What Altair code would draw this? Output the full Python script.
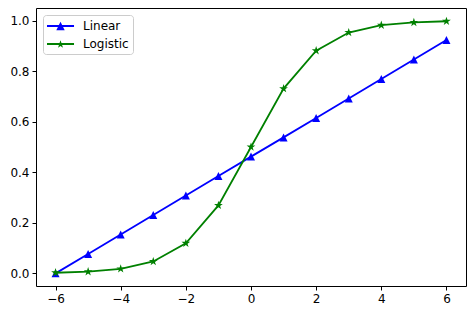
import altair as alt
import pandas as pd

x_vals = [-6, -5, -4, -3, -2, -1, 0, 1, 2, 3, 4, 5, 6]
linear_vals = [0.0, 0.077, 0.154, 0.231, 0.308, 0.385, 0.462, 0.538, 0.615, 0.692, 0.769, 0.846, 0.923]
logistic_vals = [0.0025, 0.0067, 0.018, 0.047, 0.119, 0.269, 0.5, 0.731, 0.881, 0.953, 0.982, 0.993, 0.9975]
series_names = ["Linear", "Logistic"]
series_colors = ["#0000ff", "#008000"]
x_ticks = [-6, -4, -2, 0, 2, 4, 6]
y_ticks = [0.0, 0.2, 0.4, 0.6, 0.8, 1.0]

df = pd.DataFrame({
    "x": x_vals * 2,
    "y": linear_vals + logistic_vals,
    "series": [series_names[0]] * len(x_vals) + [series_names[1]] * len(x_vals),
})

TRI = "M0,-1L1,1L-1,1Z"
STAR = ("M0,-1L0.2245,-0.309L0.951,-0.309L0.363,0.118L0.588,0.809L0,0.382"
        "L-0.588,0.809L-0.363,0.118L-0.951,-0.309L-0.2245,-0.309Z")
LEG_LINE = "M-1,-0.13H2.86V0.13H-1Z"
LEG_TRI = LEG_LINE + "M0.93,-0.6L1.53,0.6L0.33,0.6Z"
LEG_STAR = LEG_LINE + ("M0.93,-0.55L1.067,-0.128L1.51,-0.128L1.151,0.132L1.289,0.553L0.93,0.293"
                       "L0.571,0.553L0.709,0.132L0.35,-0.128L0.793,-0.128Z")

base = alt.Chart(df)
X = alt.X("x:Q", scale=alt.Scale(domain=[-6.6, 6.6], nice=False, zero=False),
          axis=alt.Axis(values=x_ticks, format="d", title=None, grid=False, domain=False))
Y = alt.Y("y:Q", scale=alt.Scale(domain=[-0.05, 1.05], nice=False, zero=False),
          axis=alt.Axis(values=y_ticks, format=".1f", title=None, grid=False, domain=False))
color_scale = alt.Scale(domain=series_names, range=series_colors)
C = alt.Color("series:N", scale=color_scale, legend=None)

layers = []
for name, shape, size in [(series_names[0], TRI, 64), (series_names[1], STAR, 85)]:
    sub = base.transform_filter(alt.datum.series == name)
    layers.append(sub.mark_line(strokeWidth=1.8).encode(x=X, y=Y, color=C))
    layers.append(sub.mark_point(filled=True, opacity=1, size=size, shape=shape,
                                 strokeWidth=0).encode(x=X, y=Y, color=C))

leg = alt.Legend(title=None, orient="top-left", offset=7, padding=4,
                 fillColor="rgba(255,255,255,0.8)", strokeColor="#cccccc",
                 cornerRadius=3, labelFont="DejaVu Sans", labelFontSize=12,
                 labelColor="black", labelOffset=22, rowPadding=5,
                 symbolSize=196, symbolStrokeWidth=0, symbolOpacity=1)
legend_layer = base.mark_point(
    filled=True, opacity=1, size=196, clip=True, yOffset=-5000).encode(
    x=X, y=Y,
    color=alt.Color("series:N", scale=color_scale, legend=leg),
    shape=alt.Shape("series:N", scale=alt.Scale(domain=series_names, range=[LEG_TRI, LEG_STAR]),
                    legend=leg),
)
layers.append(legend_layer)

chart = alt.layer(*layers).resolve_legend(
    color="independent", shape="independent"
).properties(
    width=430, height=278,
    autosize=alt.AutoSizeParams(type="none"),
    padding={"left": 36, "top": 8, "right": 8, "bottom": 27},
    background="white",
).configure_view(
    stroke="black", strokeWidth=1
).configure_axis(
    tickColor="black", tickSize=4, tickWidth=1, labelColor="black",
    labelFont="DejaVu Sans", labelFontSize=12, labelPadding=3,
)

chart.save("out.html", embed_options={"renderer": "svg", "actions": False})
